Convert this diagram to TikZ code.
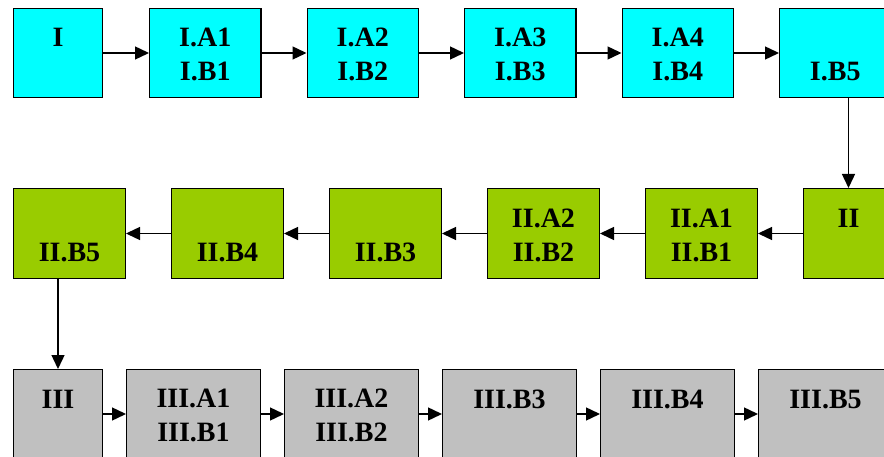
\documentclass[tikz,border=0pt]{standalone}
\usepackage{fontspec}
\setmainfont{Liberation Serif}
\usetikzlibrary{positioning,arrows.meta}

\definecolor{rowone}{HTML}{00FFFF}
\definecolor{rowtwo}{HTML}{99CC00}
\definecolor{rowthree}{HTML}{C0C0C0}
\newcommand{\rw}[1]{\rule{0pt}{22pt}#1}

\begin{document}
\begin{tikzpicture}[x=1pt, y=-1pt, line width=1.4pt, node distance=45pt,
    every node/.style={draw, align=center, inner sep=0pt,
                       font=\fontsize{28}{34}\selectfont\bfseries},
    boxone/.style={fill=rowone, minimum width=111.1pt, minimum height=88.6pt},
    boxtwo/.style={fill=rowtwo, minimum width=111.6pt, minimum height=89.6pt},
    boxthree/.style={fill=rowthree, minimum width=133.6pt, minimum height=88.6pt},
    arr/.style={-{Triangle[length=14pt,width=13pt]}}]

    \useasboundingbox (0,0) rectangle (884,457);
    \clip (0,0) rectangle (884,457);

    % first row, left to right
    \node[boxone, minimum width=88.6pt] (I) at (58,53) {\rw{I}\\\rw{}};
    \node[boxone, right=46pt of I] (IA1) {\rw{I.A1}\\\rw{I.B1}};
    \node[boxone, right=of IA1] (IA2) {\rw{I.A2}\\\rw{I.B2}};
    \node[boxone, right=of IA2] (IA3) {\rw{I.A3}\\\rw{I.B3}};
    \node[boxone, right=of IA3] (IA4) {\rw{I.A4}\\\rw{I.B4}};
    \node[boxone, right=of IA4] (IB5) {\rw{}\\\rw{I.B5}};

    % second row, right to left
    \node[boxtwo, minimum width=89.6pt] (II) at (848.5,233.5) {\rw{II}\\\rw{}};
    \node[boxtwo, left=of II] (IIA1) {\rw{II.A1}\\\rw{II.B1}};
    \node[boxtwo, left=of IIA1] (IIA2) {\rw{II.A2}\\\rw{II.B2}};
    \node[boxtwo, left=of IIA2] (IIB3) {\rw{}\\\rw{II.B3}};
    \node[boxtwo, left=of IIB3] (IIB4) {\rw{}\\\rw{II.B4}};
    \node[boxtwo, left=of IIB4] (IIB5) {\rw{}\\\rw{II.B5}};

    % third row, left to right
    \node[boxthree, minimum width=88.6pt] (III) at (58,414) {\rw{III}\\\rw{}};
    \node[boxthree, right=23pt of III] (IIIA1) {\rw{III.A1}\\\rw{III.B1}};
    \node[boxthree, right=23pt of IIIA1] (IIIA2) {\rw{III.A2}\\\rw{III.B2}};
    \node[boxthree, right=23pt of IIIA2] (IIIB3) {\rw{III.B3}\\\rw{}};
    \node[boxthree, right=23pt of IIIB3] (IIIB4) {\rw{III.B4}\\\rw{}};
    \node[boxthree, right=23pt of IIIB4] (IIIB5) {\rw{III.B5}\\\rw{}};

    \foreach \a/\b in {I/IA1, IA1/IA2, IA2/IA3, IA3/IA4, IA4/IB5,
                       II/IIA1, IIA1/IIA2, IIA2/IIB3, IIB3/IIB4, IIB4/IIB5,
                       III/IIIA1, IIIA1/IIIA2, IIIA2/IIIB3, IIIB3/IIIB4, IIIB4/IIIB5}
        \draw[arr] (\a) -- (\b);

    \draw[arr] ([xshift=13.25pt]IB5.south) -- (II.north);
    \draw[arr] ([xshift=-11.5pt]IIB5.south) -- (III.north);
\end{tikzpicture}
\end{document}
